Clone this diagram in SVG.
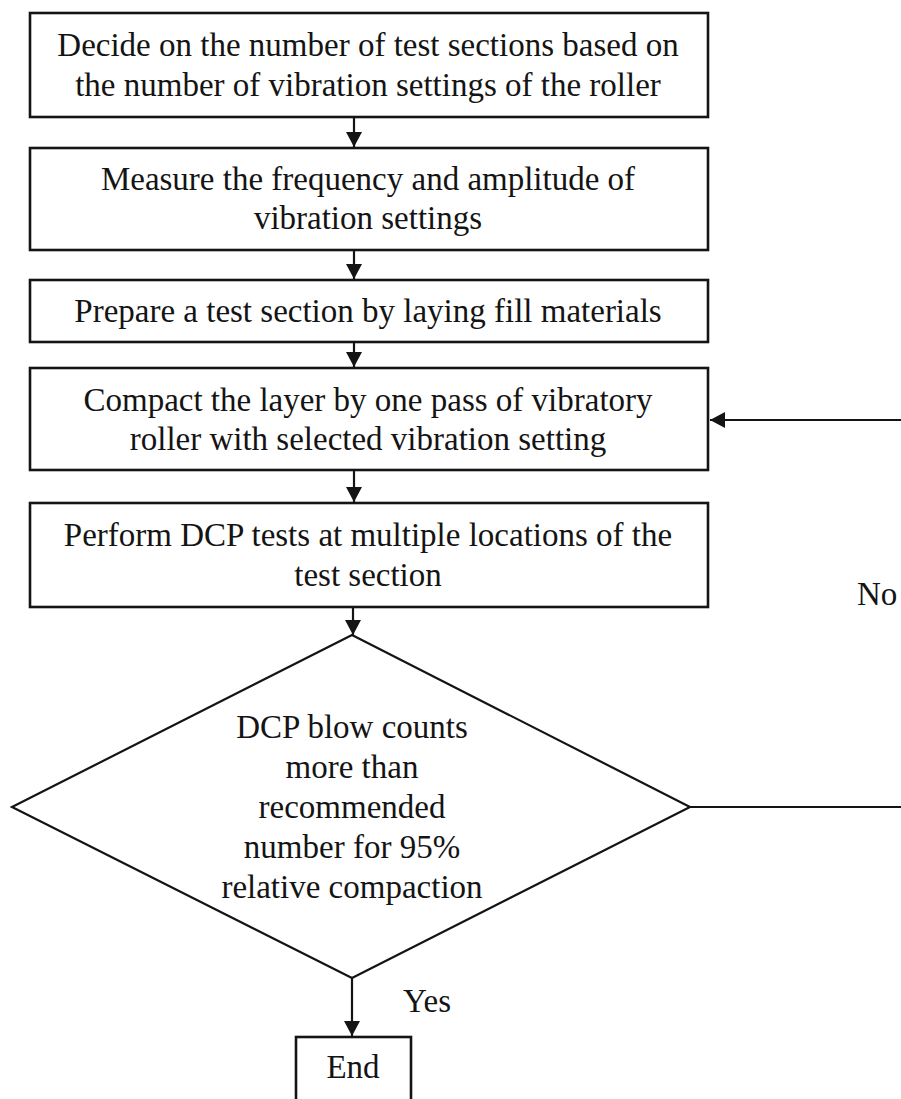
<svg xmlns="http://www.w3.org/2000/svg" width="901" height="1099" viewBox="0 0 901 1099">
  <defs>
    <style>
      .box { fill: #ffffff; stroke: #141414; stroke-width: 2.6; }
      .dia { fill: #ffffff; stroke: #141414; stroke-width: 2.2; }
      .conn { fill: none; stroke: #141414; stroke-width: 2.2; }
      .t { font-family: "Liberation Serif", "Times New Roman", serif; font-size: 33px; fill: #141414; text-anchor: middle; }
      .lbl { font-family: "Liberation Serif", "Times New Roman", serif; font-size: 33px; fill: #141414; }
    </style>
    <marker id="arr" markerUnits="userSpaceOnUse" markerWidth="16" markerHeight="16" refX="15" refY="8" orient="auto">
      <path d="M0,0 L15,8 L0,16 z" fill="#141414"/>
    </marker>
  </defs>
  <rect width="901" height="1099" fill="#ffffff"/>

  <g id="connectors">
    <path class="conn" d="M354,117 V147" marker-end="url(#arr)"/>
    <path class="conn" d="M354,250 V279" marker-end="url(#arr)"/>
    <path class="conn" d="M354,342 V367" marker-end="url(#arr)"/>
    <path class="conn" d="M354,470 V502" marker-end="url(#arr)"/>
    <path class="conn" d="M353,607 V635" marker-end="url(#arr)"/>
    <path class="conn" d="M352,978 V1036" marker-end="url(#arr)"/>
    <path class="conn" d="M690,807 H915 V420 H710" marker-end="url(#arr)"/>
  </g>

  <g id="n1">
    <rect class="box" x="30" y="13" width="678" height="104"/>
    <text class="t" x="368" y="56">Decide on the number of test sections based on</text>
    <text class="t" x="368" y="96">the number of vibration settings of the roller</text>
  </g>
  <g id="n2">
    <rect class="box" x="30" y="148" width="678" height="102"/>
    <text class="t" x="368" y="190">Measure the frequency and amplitude of</text>
    <text class="t" x="368" y="229">vibration settings</text>
  </g>
  <g id="n3">
    <rect class="box" x="30" y="280" width="678" height="62"/>
    <text class="t" x="368" y="322">Prepare a test section by laying fill materials</text>
  </g>
  <g id="n4">
    <rect class="box" x="30" y="368" width="678" height="102"/>
    <text class="t" x="368" y="411">Compact the layer by one pass of vibratory</text>
    <text class="t" x="368" y="450">roller with selected vibration setting</text>
  </g>
  <g id="n5">
    <rect class="box" x="30" y="503" width="678" height="104"/>
    <text class="t" x="368" y="546">Perform DCP tests at multiple locations of the</text>
    <text class="t" x="368" y="586">test section</text>
  </g>
  <g id="decision">
    <polygon class="dia" points="352,635 690,807 352,978 12,807"/>
    <text class="t" x="352" y="738">DCP blow counts</text>
    <text class="t" x="352" y="778">more than</text>
    <text class="t" x="352" y="818">recommended</text>
    <text class="t" x="352" y="858">number for 95%</text>
    <text class="t" x="352" y="898">relative compaction</text>
  </g>
  <g id="end">
    <rect class="box" x="296" y="1037" width="115" height="80"/>
    <text class="t" x="353" y="1078">End</text>
  </g>
  <g id="labels">
    <text class="lbl" x="403" y="1012">Yes</text>
    <text class="lbl" x="857" y="605">No</text>
  </g>
</svg>
